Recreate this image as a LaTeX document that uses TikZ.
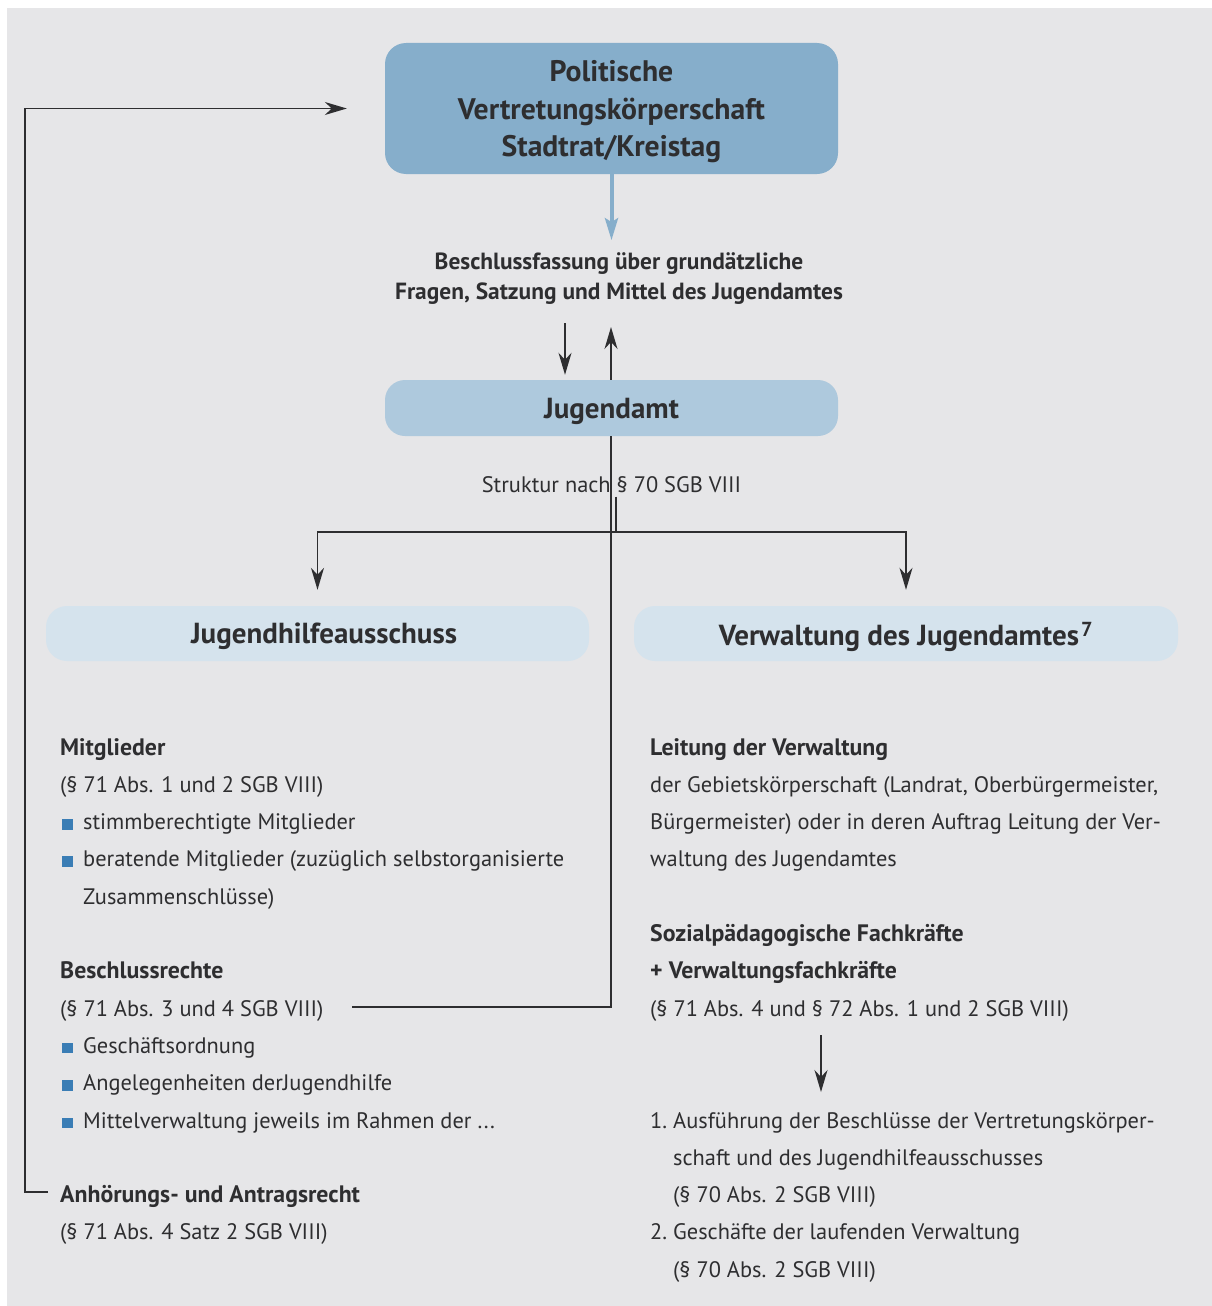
\documentclass[tikz,border=0pt]{standalone}
\usepackage{fontspec}
\setmainfont{PT Sans}
\usepackage{xcolor}
\usetikzlibrary{arrows.meta}
\usetikzlibrary{positioning}

\definecolor{hgrund}{HTML}{E6E6E8}
\definecolor{dunkelblau}{HTML}{86AECB}
\definecolor{mittelblau}{HTML}{AEC9DD}
\definecolor{hellblau}{HTML}{D5E3ED}
\definecolor{punktblau}{HTML}{3A7DB5}
\definecolor{schrift}{HTML}{2E2E30}

\newcommand{\punkt}{\hspace*{2pt}\textcolor{punktblau}{\rule{10.5pt}{10.5pt}}\hspace*{10.5pt}}
\newcommand{\einzug}{\hspace*{23pt}}
\newcommand{\nummer}[1]{\makebox[23pt][l]{#1}}
\newcommand{\kopf}[1]{{\fontsize{23.8}{37.3}\selectfont\bfseries #1}}

\tikzset{
	kasten/.style={rounded corners=21pt, align=center, text=schrift, text depth=0pt, font=\bfseries\fontsize{29}{37.5}\selectfont},
	spalte/.style={anchor=base west, align=left, text=schrift, inner sep=0pt, font=\fontsize{22.4}{37.3}\selectfont},
	linie/.style={draw=schrift, line width=1.7pt},
	pfeil/.style={linie, -{Stealth[length=22pt,width=13pt,inset=7pt]}},
}

\begin{document}
\begin{tikzpicture}[x=1pt,y=-1pt]
		\useasboundingbox (0,0) rectangle (1212,1306);
		\fill[hgrund] (7,8) rectangle (1212,1306);
		% Kaesten
		\node[kasten, fill=dunkelblau, minimum width=453pt, minimum height=131pt, font=\bfseries\fontsize{29.7}{37.5}\selectfont] (rat) at (611.5,108.5) {Politische\\Vertretungskörperschaft\\Stadtrat/Kreistag};
		\node[align=center, text=schrift, font=\bfseries\fontsize{23.4}{30}\selectfont] (beschluss) at (619,279) {Beschlussfassung über grundätzliche\\Fragen, Satzung und Mittel des Jugendamtes};
		\node[kasten, fill=mittelblau, minimum width=453pt, minimum height=56pt, rounded corners=20pt] (amt) at (611.5,408) {Jugendamt};
		\node[text=schrift, font=\fontsize{22.4}{25}\selectfont] (struktur) at (611.5,485) {Struktur nach § 70 SGB VIII};
		\node[kasten, fill=hellblau, minimum width=543pt, minimum height=55pt] (jha) at (317.5,633.5) {\hspace*{13pt}Jugendhilfeausschuss};
		\node[kasten, fill=hellblau, minimum width=544pt, minimum height=55pt] (verw) at (906,633.5) {Verwaltung des Jugendamtes\hspace{2pt}\textsuperscript{7}};
		% linke Spalte
		\node[spalte] (mitglieder) at (60,904.2) {\kopf{Mitglieder}\\(§ 71 Abs. 1 und 2 SGB VIII)\\\punkt stimmberechtigte Mitglieder\\\punkt beratende Mitglieder (zuzüglich selbstorganisierte\\\einzug Zusammenschlüsse)};
		\node[spalte] (rechte) at (60,1128) {\kopf{Beschlussrechte}\\(§ 71 Abs. 3 und 4 SGB VIII)\\\punkt Geschäftsordnung\\\punkt Angelegenheiten derJugendhilfe\\\punkt Mittelverwaltung jeweils im Rahmen der ...};
		\node[spalte] (anhoerung) at (60,1239.9) {\kopf{Anhörungs- und Antragsrecht}\\(§ 71 Abs. 4 Satz 2 SGB VIII)};
		% rechte Spalte
		\node[spalte] (leitung) at (650,866.9) {\kopf{Leitung der Verwaltung}\\der Gebietskörperschaft (Landrat, Oberbürgermeister,\\Bürgermeister) oder in deren Auftrag Leitung der Ver-\\waltung des Jugendamtes};
		\node[spalte] (fachkraefte) at (650,1016.1) {\kopf{Sozialpädagogische Fachkräfte}\\\kopf{+ Verwaltungsfachkräfte}\\(§ 71 Abs. 4 und § 72 Abs. 1 und 2 SGB VIII)};
		\node[spalte] (aufgaben) at (650,1277.2) {\nummer{1.}Ausführung der Beschlüsse der Vertretungskörper-\\\einzug schaft und des Jugendhilfeausschusses\\\einzug (§ 70 Abs. 2 SGB VIII)\\\nummer{2.}Geschäfte der laufenden Verwaltung\\\einzug (§ 70 Abs. 2 SGB VIII)};
		% Verbindungen
		\coordinate (ab) at (565,323);
		\coordinate (auf) at (611,327);
		\coordinate (rechteende) at (352,1007);
		\coordinate (knick) at (611,1007);
		\coordinate (vt) at (616,532);
		\coordinate (r1) at (821,1035);
		\coordinate (r2) at (821,1092);
		\coordinate (rs) at (48,1192);
		\coordinate (re) at (25,1192);
		\draw[draw=dunkelblau, line width=4pt, -{Stealth[length=22pt,width=13pt,inset=4pt]}] (rat.south) -- ++(0,66);
		\draw[pfeil, shorten >=5pt] (ab) -- (ab |- amt.north);
		\draw[linie] (rechteende) -- (knick) -- (knick |- amt.south);
		\draw[pfeil] (knick |- amt.north) -- (auf);
		\draw[linie] (struktur.south -| vt) -- (vt);
		\draw[pfeil, shorten >=16pt] (vt) -| (jha.north);
		\draw[pfeil, shorten >=16pt] (vt) -| (verw.north);
		\draw[pfeil] (r1) -- (r2);
		\draw[pfeil, shorten >=38pt] (rs) -- (re) |- (rat.west);
	\end{tikzpicture}
\end{document}
